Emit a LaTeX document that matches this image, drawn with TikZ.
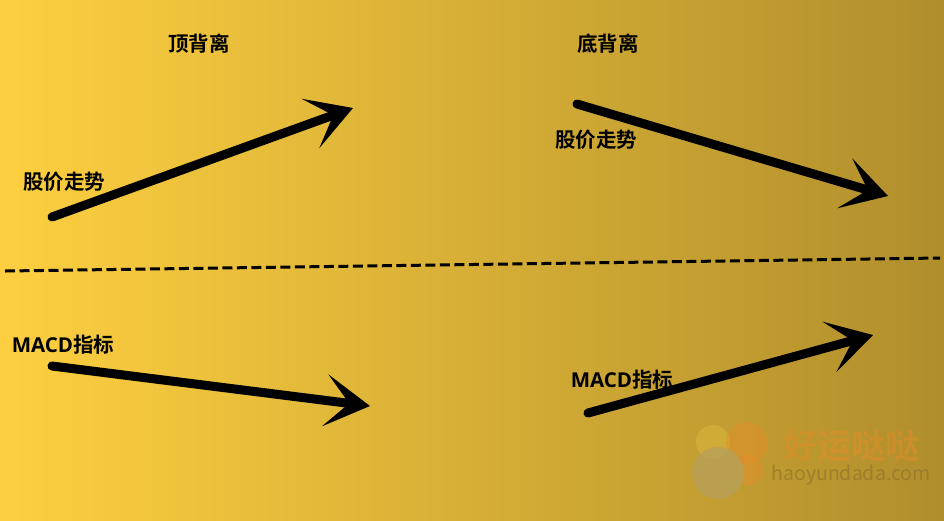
\documentclass[tikz,border=0pt]{standalone}
\usepackage{fontspec}
\setmainfont{Noto Sans CJK SC}
\newfontfamily\cjkbold{Noto Sans CJK SC Bold}
\newfontfamily\latinbold{Open Sans Bold}
\usetikzlibrary{arrows.meta}

\definecolor{bgleft}{RGB}{253,207,64}
\definecolor{bgright}{RGB}{176,142,44}
\definecolor{wmorange}{RGB}{232,140,40}
\definecolor{wmlight}{RGB}{214,182,60}
\definecolor{wmgray}{RGB}{184,160,90}
\definecolor{wmtext}{RGB}{140,112,40}

\begin{document}
\begin{tikzpicture}[x=1pt,y=-1pt,
    trend/.style={line width=9pt,line cap=round,
      -{Stealth[length=45pt,width=52pt,inset=24pt]}},
    lbl/.style={font=\cjkbold\fontsize{20.5}{20.5}\selectfont,inner sep=0pt}]

	\useasboundingbox (0,0) rectangle (944,520);
	\shade[left color=bgleft,right color=bgright] (0,0) rectangle (944,520);

	% watermark
	\fill[wmlight,opacity=.6] (713,442) circle(17); \fill[wmorange,opacity=.45]
        (747,443) circle(21); \fill[wmorange,opacity=.45] (748,470)
        circle(15); \fill[wmgray,opacity=.8] (718,473) circle(26);
	\node[font=\cjkbold\fontsize{34}{34}\selectfont,text=wmorange,opacity=.45,inner sep=0pt]
        (wmcn) at (851,446) {好运哒哒};
	\node[font=\fontsize{19.5}{19.5}\selectfont,text=wmtext,opacity=.6,inner sep=0pt]
        (wmen) at (851,475) {haoyundada.com};

	% headings and labels
	\node[lbl] (top) at (199,44) {顶背离}; \node[lbl] (bottom) at
        (608,44) {底背离};
	\node[lbl] (priceL) at (64,182) {股价走势}; \node[lbl] (priceR) at
        (596,140) {股价走势};
	\node[lbl] (macdL) at (63,345) {{\latinbold MACD}指标}; \node[lbl] (macdR) at
        (622,380) {{\latinbold MACD}指标};

	% arrows
	\coordinate (pL0) at (52,217); \coordinate (pL1) at (353,108);
	\coordinate (pR0) at (577,104); \coordinate (pR1) at (888,196);
	\coordinate (mL0) at (52,366); \coordinate (mL1) at (370,406);
	\coordinate (mR0) at (588,413); \coordinate (mR1) at (873,335);
	\draw[trend] (pL0) -- (pL1); \draw[trend] (pR0) -- (pR1);
	\draw[trend] (mL0) -- (mL1); \draw[trend] (mR0) -- (mR1);

	% divider
	\coordinate (d0) at (5,271); \coordinate (d1) at (940,258);
	\draw[line width=3pt,dash pattern=on 10pt off 4.5pt] (d0) -- (d1);
      \end{tikzpicture}
\end{document}
